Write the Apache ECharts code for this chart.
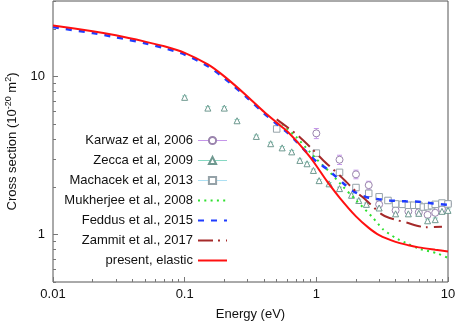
<!DOCTYPE html>
<html><head><meta charset="utf-8">
<script src="https://cdn.jsdelivr.net/npm/echarts@6/dist/echarts.min.js"></script>
<style>html,body{margin:0;padding:0;background:#fff}#c{width:457px;height:323px}</style>
</head><body><div id="c"></div>
<script>
// ---------- data ----------
const presentE  = [0.01,0.02,0.03,0.05,0.07,0.1,0.15,0.2,0.3,0.4,0.5,0.6,0.7,0.8,0.9,1.0,1.2,1.5,2.0,2.5,3.0,4.0,5.0,6.0,8.0,10];
const presentCS = [21.0,19.3,18.2,16.6,15.5,14.1,11.9,10.0,7.47,5.97,5.1,4.5,3.94,3.47,3.07,2.72,2.18,1.71,1.30,1.10,0.99,0.897,0.855,0.828,0.80,0.78];

const feddusE  = [0.01,0.02,0.03,0.05,0.07,0.1,0.15,0.2,0.3,0.4,0.5,0.6,0.7,0.8,0.9,1.0,1.2,1.4,1.6,1.9,2.4,3.0,3.6,4.8,6.0,7.7,10];
const feddusCS = [20.5,18.8,17.7,16.2,15.1,13.75,11.6,9.75,7.3,5.85,5.0,4.42,3.9,3.47,3.15,2.9,2.6,2.33,2.11,1.88,1.72,1.67,1.64,1.62,1.61,1.57,1.54];

const mukE  = [0.55,0.7,0.9,1.0,1.27,1.6,2.0,2.7,3.2,4.0,5.0,6.1,8.2,10];
const mukCS = [5.0,4.15,3.3,3.0,2.47,2.0,1.65,1.27,1.08,0.95,0.87,0.81,0.76,0.71];

const zamE  = [0.5,0.7,0.9,1.13,1.5,2.0,2.4,3.1,3.6,4.8,6.8,9.0];
const zamCS = [5.35,4.33,3.56,2.94,2.37,1.87,1.64,1.35,1.27,1.19,1.11,1.12];

const karE   = [1.0,1.5,2.0,2.5,3.0,4.0,5.0,6.0,7.0,8.0,9.0,10];
const karCS  = [4.36,2.97,2.40,2.05,1.55,1.42,1.40,1.38,1.33,1.37,1.45,1.56];
const karErr = [0.32,0.20,0.15,0.12,0.06,0.05,0.05,0.05,0.05,0.05,0.05,0.06];

const zecE   = [0.1,0.15,0.2,0.25,0.35,0.45,0.55,0.65,0.75,0.85,0.95,1.05,1.25,1.5,1.85,2.1,2.4,3.0,4.0,5.0,6.0,7.0,8.0,9.0,10];
const zecCS  = [7.37,6.30,6.30,5.24,4.17,3.75,3.53,3.33,2.94,2.80,2.54,2.19,2.09,1.95,1.77,1.64,1.55,1.47,1.35,1.35,1.36,1.22,1.24,1.40,1.42];
const zecErr = [0.15,0.13,0.13,0.10,0.08,0.08,0.07,0.07,0.06,0.06,0.05,0.04,0.04,0.04,0.04,0.03,0.03,0.03,0.03,0.03,0.03,0.03,0.03,0.03,0.03];

const macE   = [0.5,1.0,1.5,2.0,2.5,3.0,3.5,4.0,4.5,5.0,5.5,6.0,6.5,7.0,7.5,8.0,9.0,10];
const macCS  = [4.65,3.27,2.47,1.98,1.82,1.73,1.64,1.56,1.55,1.53,1.53,1.53,1.49,1.50,1.52,1.55,1.58,1.56];
const macErr = [0.14,0.10,0.07,0.06,0.05,0.05,0.05,0.05,0.05,0.05,0.05,0.05,0.05,0.05,0.05,0.05,0.05,0.05];

// axis ranges and ticks
const xMin = 0.01, xMax = 10;
const yMin = 0.5, yMax = 30;
const xMajorTicks  = [0.01, 0.1, 1, 10];
const xTickLabels  = ['0.01', '0.1', '1', '10'];
const xMinorTicks  = [0.02,0.03,0.04,0.05,0.06,0.07,0.08,0.09,0.2,0.3,0.4,0.5,0.6,0.7,0.8,0.9,2,3,4,5,6,7,8,9];
const yMajorTicks  = [1, 10];
const yTickLabels  = ['1', '10'];
const yMinorTicks  = [0.5,0.6,0.7,0.8,0.9,2,3,4,5,6,7,8,9,20,30];

const names = ['Karwaz et al, 2006','Zecca et al, 2009','Machacek et al, 2013','Mukherjee et al., 2008','Feddus et al., 2015','Zammit et al., 2017','present, elastic'];

// ---------- build ----------
const FONT = 'Liberation Sans, Arial, Helvetica, sans-serif';
const L = Math.log10;
const zip = (a, b) => a.map((v, i) => [v, b[i]]);

function errSeries(E, CS, ERR, color) {
  return {
    type: 'custom', xAxisIndex: 0, yAxisIndex: 0, silent: true, z: 2,
    data: E.map((e, i) => [e, CS[i] - ERR[i], CS[i] + ERR[i]]),
    encode: { x: 0, y: [1, 2] },
    renderItem(params, api) {
      const x = api.value(0);
      const lo = api.coord([x, api.value(1)]);
      const hi = api.coord([x, api.value(2)]);
      const w = 2.5, st = { stroke: color, lineWidth: 1 };
      return { type: 'group', children: [
        { type: 'line', shape: { x1: lo[0], y1: lo[1], x2: hi[0], y2: hi[1] }, style: st },
        { type: 'line', shape: { x1: lo[0]-w, y1: lo[1], x2: lo[0]+w, y2: lo[1] }, style: st },
        { type: 'line', shape: { x1: hi[0]-w, y1: hi[1], x2: hi[0]+w, y2: hi[1] }, style: st }
      ]};
    }
  };
}
function pointSeries(name, E, CS, symbol, size, color) {
  return {
    type: 'line', name, data: zip(E, CS), symbol, symbolSize: size, showSymbol: true,
    itemStyle: { color: '#fff', borderColor: color, borderWidth: 1 }, lineStyle: { opacity: 0 }, z: 3,
    emphasis: { disabled: true }
  };
}
function curveSeries(name, E, CS, color, width, type) {
  return {
    type: 'line', name, data: zip(E, CS), symbol: 'none', smooth: 0.25,
    lineStyle: { color, width, type }, itemStyle: { color }, z: 4,
    emphasis: { disabled: true }
  };
}

const C = {
  kar: '#c596ea', karP: '#9a84ad',
  zec: '#86d8c2', zecP: '#6f9990',
  mac: '#ade0f3', macP: '#95a2a8',
  muk: '#2fe02f', fed: '#1f3cff', zam: '#a52a2a', pre: '#ff1010'
};

const tickAxisX = (vals, len, showLabel, extra) => Object.assign({
  type: 'value', min: L(xMin), max: L(xMax), position: 'bottom',
  axisLine: { show: false, onZero: false }, splitLine: { show: false },
  axisTick: { show: true, inside: true, length: len, customValues: vals.map(L), lineStyle: { color: '#777', width: 1 } },
  axisLabel: showLabel ? {
    customValues: xMajorTicks.map(L), margin: 6, fontSize: 13, color: '#111', fontFamily: FONT,
    formatter: v => { const i = xMajorTicks.findIndex(t => Math.abs(L(t) - v) < 1e-9); return i >= 0 ? xTickLabels[i] : ''; }
  } : { show: false }
}, extra || {});
const tickAxisY = (vals, len, showLabel, extra) => Object.assign({
  type: 'value', min: L(yMin), max: L(yMax), position: 'left',
  axisLine: { show: false, onZero: false }, splitLine: { show: false },
  axisTick: { show: true, inside: true, length: len, customValues: vals.map(L), lineStyle: { color: '#777', width: 1 } },
  axisLabel: showLabel ? {
    customValues: yMajorTicks.map(L), margin: 8, fontSize: 13, color: '#111', fontFamily: FONT,
    formatter: v => { const i = yMajorTicks.findIndex(t => Math.abs(L(t) - v) < 1e-9); return i >= 0 ? yTickLabels[i] : ''; }
  } : { show: false }
}, extra || {});

const noDot = { itemStyle: { opacity: 0 } };
const option = {
  animation: false,
  backgroundColor: '#fff',
  textStyle: { fontFamily: FONT },
  grid: { left: 53, right: 9, top: 1, bottom: 41, show: true, borderColor: '#555', borderWidth: 1, outerBoundsMode: 'none', containLabel: false },
  xAxis: [
    { type: 'log', logBase: 10, min: xMin, max: xMax, show: false, position: 'bottom', axisLine: { onZero: false } },
    tickAxisX(xMajorTicks, 5, true, { name: 'Energy (eV)', nameLocation: 'middle', nameGap: 26,
      nameTextStyle: { fontSize: 13, color: '#111', fontFamily: FONT } }),
    tickAxisX(xMinorTicks, 3, false)
  ],
  yAxis: [
    { type: 'log', logBase: 10, min: yMin, max: yMax, show: false, position: 'left', axisLine: { onZero: false } },
    tickAxisY(yMajorTicks, 5, true, { name: 'Cross section (10{sup|-20} m{sup|2})', nameLocation: 'middle', nameGap: 32,
      nameTextStyle: { fontSize: 13, color: '#111', fontFamily: FONT,
        rich: { sup: { fontSize: 9, color: '#111', fontFamily: FONT, padding: [0, 0, 8, 0] } } } }),
    tickAxisY(yMinorTicks, 3, false)
  ],
  legend: {
    orient: 'vertical', align: 'right', right: 224, top: 129,
    itemWidth: 29, itemHeight: 9, itemGap: 7, selectedMode: false,
    textStyle: { fontSize: 13, color: '#111', fontFamily: FONT },
    data: [
      { name: names[0], lineStyle: { opacity: 1, color: C.kar, width: 1 } },
      { name: names[1], lineStyle: { opacity: 1, color: C.zec, width: 1 } },
      { name: names[2], lineStyle: { opacity: 1, color: C.mac, width: 1 } },
      Object.assign({ name: names[3] }, noDot),
      Object.assign({ name: names[4] }, noDot),
      Object.assign({ name: names[5] }, noDot),
      Object.assign({ name: names[6] }, noDot)
    ]
  },
  series: [
    errSeries(karE, karCS, karErr, C.kar),
    errSeries(zecE, zecCS, zecErr, C.zec),
    errSeries(macE, macCS, macErr, C.mac),
    pointSeries(names[0], karE, karCS, 'circle', 7, C.karP),
    pointSeries(names[1], zecE, zecCS, 'triangle', 6, C.zecP),
    pointSeries(names[2], macE, macCS, 'rect', 6.5, C.macP),
    curveSeries(names[3], mukE, mukCS, C.muk, 2, [2, 4.3]),
    curveSeries(names[4], feddusE, feddusCS, C.fed, 2.5, [6, 7]),
    curveSeries(names[5], zamE, zamCS, C.zam, 2, [15, 5, 2, 6]),
    curveSeries(names[6], presentE, presentCS, C.pre, 2, 'solid')
  ]
};
const chart = echarts.init(document.getElementById('c'), null, { renderer: 'canvas' });
chart.setOption(option);
</script></body></html>
